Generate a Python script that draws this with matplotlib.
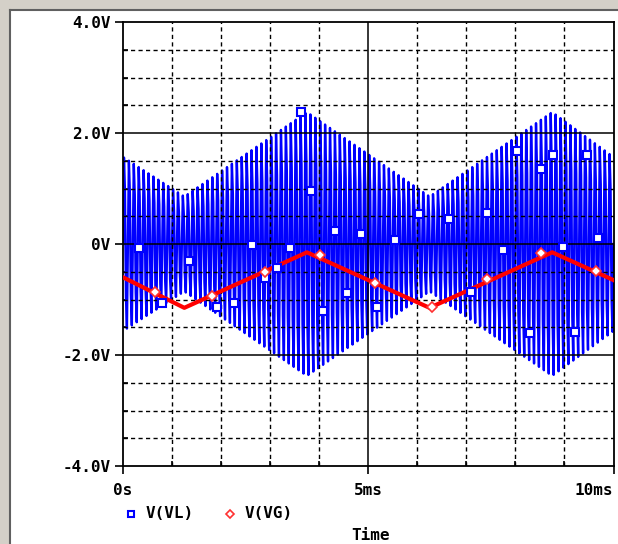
import numpy as np
import matplotlib.pyplot as plt
from matplotlib.lines import Line2D
from matplotlib.patches import Rectangle

# envelope of V(VL) (ms, V)
env_t = [0.0, 1.25, 3.75, 6.25, 8.75, 10.0]
env_amp = [1.65, 0.9, 2.5, 0.9, 2.5, 1.65]
carrier_khz = 10.0
step_ms = 0.02

# V(VG) corners
vg_t = [0.0, 1.25, 3.75, 6.25, 8.75, 10.0]
vg_v = [-0.6, -1.15, -0.15, -1.15, -0.15, -0.65]

# marker positions seen on the traces
vl_mark_t = [0.33, 0.79, 1.35, 1.92, 2.26, 2.63, 2.89, 3.14, 3.41, 3.63, 3.83, 4.07,
             4.32, 4.56, 4.85, 5.18, 5.54, 6.03, 6.64, 7.09, 7.42, 7.74, 8.03, 8.29,
             8.53, 8.76, 8.98, 9.21, 9.45, 9.69]
vl_mark_v = [-0.08, -1.07, -0.31, -1.14, -1.07, -0.02, -0.62, -0.44, -0.08, 2.38, 0.95, -1.21,
             0.23, -0.89, 0.18, -1.14, 0.08, 0.54, 0.45, -0.87, 0.55, -0.11, 1.67, -1.61,
             1.35, 1.60, -0.06, -1.59, 1.60, 0.10]
vg_mark_t = [0.65, 1.81, 2.89, 4.01, 5.13, 6.29, 7.43, 8.53, 9.65]
vg_mark_v = [-0.86, -0.94, -0.50, -0.20, -0.70, -1.13, -0.63, -0.16, -0.49]

t = np.arange(0, 10.0 + 1e-9, step_ms)
vl = np.interp(t, env_t, env_amp) * np.sin(2 * np.pi * carrier_khz * t)

W, H = 618, 544
fig = plt.figure(figsize=(W / 100, H / 100), dpi=100)
fig.patch.set_facecolor("white")

# window frame
fig.add_artist(Rectangle((0, 1 - 9 / H), 1, 9 / H, transform=fig.transFigure,
                         color="#d4d0c8", zorder=0))
fig.add_artist(Rectangle((0, 0), 9 / W, 1, transform=fig.transFigure,
                         color="#d4d0c8", zorder=0))
fig.add_artist(Line2D([9.5 / W, 9.5 / W], [0, 1 - 9.5 / H], transform=fig.transFigure,
                      color="#606060", lw=1.5))
fig.add_artist(Line2D([9.5 / W, 1], [1 - 9.5 / H, 1 - 9.5 / H], transform=fig.transFigure,
                      color="#606060", lw=1.5))

ax = fig.add_axes([123 / W, 1 - 466 / H, (613.5 - 123) / W, (466 - 22) / H])

ax.plot(t, vl, color="#0000ff", lw=1.7, zorder=2)
ax.plot(vl_mark_t, vl_mark_v, ls="none", marker="s", ms=6, mfc="white",
        mec="#0000ff", mew=1.5, zorder=4)
ax.plot(vg_t, vg_v, color="#ff0000", lw=3, zorder=3)
ax.plot(vg_mark_t, vg_mark_v, ls="none", marker="D", ms=5, mfc="white",
        mec="#ff3030", mew=1.2, zorder=4)

ax.set_xlim(0, 10)
ax.set_ylim(-4, 4)

# grid: solid major, dashed minor
dash = (0, (3, 2.4))
for x in [1, 2, 3, 4, 6, 7, 8, 9]:
    ax.axvline(x, color="black", lw=1.0, ls=dash, zorder=2.5)
ax.axvline(5, color="black", lw=1.1, zorder=2.5)
for y in np.arange(-3.5, 4, 0.5):
    if abs(y % 2) < 1e-9:
        ax.axhline(y, color="black", lw=1.1, zorder=2.5)
    else:
        ax.axhline(y, color="black", lw=1.0, ls=dash, zorder=2.5)

for s in ax.spines.values():
    s.set_linewidth(1.3)

mono = {"family": "DejaVu Sans Mono", "weight": "bold", "size": 11.5}
ax.set_yticks([-4, -2, 0, 2, 4])
ax.set_yticklabels(["-4.0V", "-2.0V", "0V", "2.0V", "4.0V"], fontdict=mono)
ax.set_xticks([0, 5, 10])
ax.set_xticklabels(["0s", "5ms", "10ms"], fontdict=mono)
ax.get_xticklabels()[-1].set_ha("right")
ax.set_yticks(np.arange(-3.5, 4, 0.5), minor=True)
ax.set_xticks(np.arange(1, 10, 1), minor=True)
ax.tick_params(axis="both", which="major", direction="out", length=6, width=1.2)
ax.tick_params(axis="y", which="major", pad=3)
ax.tick_params(axis="x", which="major", pad=6)
ax.tick_params(axis="both", which="minor", direction="in", length=3.5, width=1.2)

# legend and axis title
fig.add_artist(Line2D([131 / W], [1 - 514 / H], transform=fig.transFigure, marker="s",
                      ms=5, mfc="white", mec="#0000ff", mew=1.5))
fig.text(146 / W, 1 - 514 / H, "V(VL)", ha="left", va="center", **mono)
fig.add_artist(Line2D([230 / W], [1 - 514 / H], transform=fig.transFigure, marker="D",
                      ms=4, mfc="white", mec="#ff3030", mew=1.2))
fig.text(245 / W, 1 - 514 / H, "V(VG)", ha="left", va="center", **mono)
fig.text(370 / W, 1 - 536 / H, "Time", ha="center", va="center", **mono)

fig.savefig("out.png", dpi=100)
